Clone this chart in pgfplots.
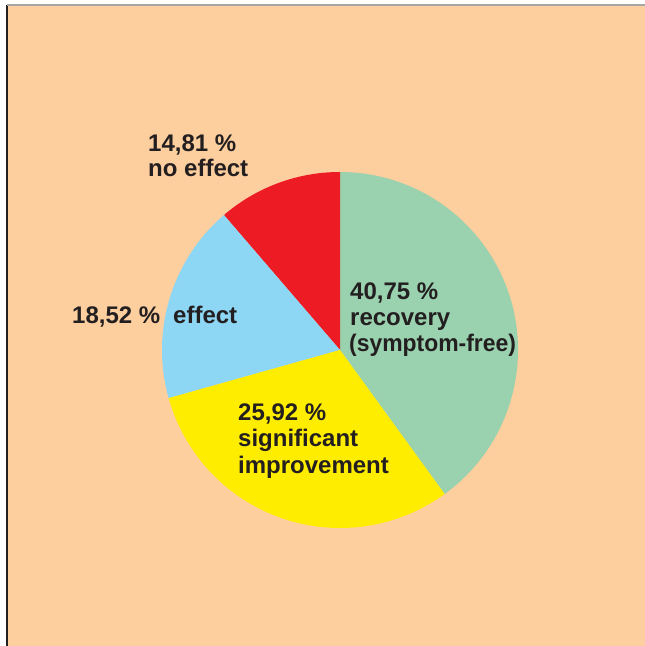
\documentclass[border=0pt]{standalone}
\usepackage{fontspec}
\setmainfont{Liberation Sans}
\usepackage{xcolor}
\usepackage{pgfplots}
\pgfplotsset{compat=1.18}

\definecolor{bgpeach}{HTML}{FDCE9E}
\definecolor{cgreen}{HTML}{9AD1AE}
\definecolor{cyellow}{HTML}{FFED00}
\definecolor{cblue}{HTML}{8DD7F5}
\definecolor{cred}{HTML}{ED1C24}
\definecolor{ctext}{HTML}{231F20}

\begin{document}
\begin{tikzpicture}
\begin{axis}[
  width=645bp, height=646bp,
  scale only axis,
  xmin=0, xmax=645,
  ymin=0, ymax=646,
  hide axis,
  clip=true,
]
% frame
\fill[white] (axis cs:0,0) rectangle (axis cs:645,646);
\fill[bgpeach] (axis cs:7,0) rectangle (axis cs:645,641);
\draw[ctext, line width=1.6bp] (axis cs:7.2,0) -- (axis cs:7.2,641);
\draw[gray!70, line width=1.4bp] (axis cs:7,640.8) -- (axis cs:645,640.8);

% slices (angles as drawn, centre 340/296, radius 178)
\fill[cgreen]  (axis cs:340,296) -- ++(-54:178bp) arc[start angle=-54, end angle=90, radius=178bp] -- cycle;
\fill[cred]    (axis cs:340,296) -- ++(90:178bp) arc[start angle=90, end angle=130.7, radius=178bp] -- cycle;
\fill[cblue]   (axis cs:340,296) -- ++(130.7:178bp) arc[start angle=130.7, end angle=195.7, radius=178bp] -- cycle;
\fill[cyellow] (axis cs:340,296) -- ++(195.7:178bp) arc[start angle=195.7, end angle=306, radius=178bp] -- cycle;

% labels
\begin{scope}[every node/.style={anchor=base west, inner sep=0pt, text=ctext,
    font=\fontsize{24bp}{26bp}\selectfont\bfseries}]
\node at (axis cs:148,494) {14,81 \%};
\node at (axis cs:148,469) {no effect};
\node at (axis cs:72,322) {18,52 \%};
\node at (axis cs:173,322) {effect};
\node at (axis cs:350,346) {40,75 \%};
\node at (axis cs:350,320) {recovery};
\node[xscale=0.955] at (axis cs:349,294.5) {(symptom-free)};
\node at (axis cs:238,225) {25,92 \%};
\node at (axis cs:238,199) {significant};
\node at (axis cs:238,172) {improvement};
\end{scope}
\end{axis}
\end{tikzpicture}
\end{document}
